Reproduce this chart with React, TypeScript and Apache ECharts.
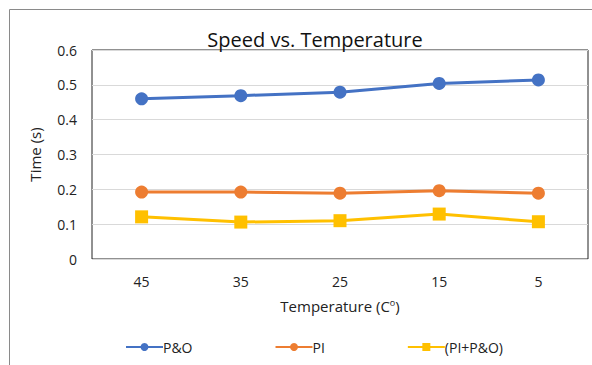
import React, { useEffect, useRef } from "react";
import * as echarts from "echarts";

const categories = ["45", "35", "25", "15", "5"];
const poValues = [0.46, 0.469, 0.479, 0.504, 0.514];
const piValues = [0.192, 0.192, 0.189, 0.196, 0.189];
const piPoValues = [0.121, 0.106, 0.11, 0.129, 0.107];
const yTicks = [0, 0.1, 0.2, 0.3, 0.4, 0.5, 0.6];

const FONT = "Open Sans";

export default function App() {
  const ref = useRef<HTMLDivElement>(null);
  useEffect(() => {
    if (!ref.current) return;
    const chart = echarts.init(ref.current, undefined, { renderer: "svg" });
    chart.setOption({
      animation: false,
      backgroundColor: "#ffffff",
      textStyle: { fontFamily: FONT },
      title: {
        text: "Speed vs. Temperature",
        left: 310,
        textAlign: "center",
        top: 24,
        textStyle: { fontFamily: FONT, fontSize: 20, fontWeight: "normal", color: "#111" },
      },
      graphic: [
        {
          type: "rect",
          shape: { x: 9.5, y: 9.5, width: 700, height: 500 },
          style: { fill: "none", stroke: "#8a8a8a", lineWidth: 1 },
          silent: true,
        },
      ],
      grid: {
        left: 92,
        top: 50,
        width: 496,
        height: 209,
        show: true,
        borderColor: "#222",
        borderWidth: 1,
        containLabel: false,
      },
      legend: {
        left: 120,
        top: 335,
        itemGap: 82,
        itemWidth: 37,
        itemHeight: 10,
        textStyle: { fontFamily: FONT, fontSize: 14, color: "#222", padding: [0, 0, 0, -5] },
        data: ["P&O", "PI", "(PI+P&O)"],
      },
      xAxis: {
        type: "category",
        data: categories,
        boundaryGap: true,
        name: "Temperature (C{sup|o})",
        nameLocation: "middle",
        nameGap: 39,
        nameTextStyle: {
          fontFamily: FONT,
          fontSize: 15,
          color: "#222",
          rich: { sup: { fontFamily: FONT, fontSize: 9, verticalAlign: "top", padding: [0, 0, 6, 0], color: "#222" } },
        },
        axisLine: { show: false },
        axisTick: { show: false },
        axisLabel: { margin: 15, fontFamily: FONT, fontSize: 14, color: "#222" },
      },
      yAxis: {
        type: "value",
        min: yTicks[0],
        max: yTicks[yTicks.length - 1],
        interval: 0.1,
        name: "Time (s)",
        nameLocation: "middle",
        nameGap: 50,
        nameTextStyle: { fontFamily: FONT, fontSize: 15, color: "#222" },
        axisLine: { show: false },
        axisTick: { show: false },
        axisLabel: {
          margin: 15,
          fontFamily: FONT,
          fontSize: 14,
          color: "#222",
          formatter: (v: number) => String(Math.round(v * 10) / 10),
        },
        splitLine: { show: true, lineStyle: { color: "#d9d9d9", width: 1 } },
      },
      series: [
        {
          name: "P&O",
          type: "line",
          data: poValues,
          symbol: "circle",
          symbolSize: 13,
          itemStyle: { color: "#4472C4" },
          lineStyle: { color: "#4472C4", width: 3 },
        },
        {
          name: "PI",
          type: "line",
          data: piValues,
          symbol: "circle",
          symbolSize: 13,
          itemStyle: { color: "#ED7D31" },
          lineStyle: { color: "#ED7D31", width: 3 },
        },
        {
          name: "(PI+P&O)",
          type: "line",
          data: piPoValues,
          symbol: "rect",
          symbolSize: 13,
          itemStyle: { color: "#FFC000" },
          lineStyle: { color: "#FFC000", width: 3 },
        },
      ],
    });
    return () => chart.dispose();
  }, []);
  return <div ref={ref} style={{ width: 592, height: 365, position: "absolute", left: 0, top: 0 }} />;
}
